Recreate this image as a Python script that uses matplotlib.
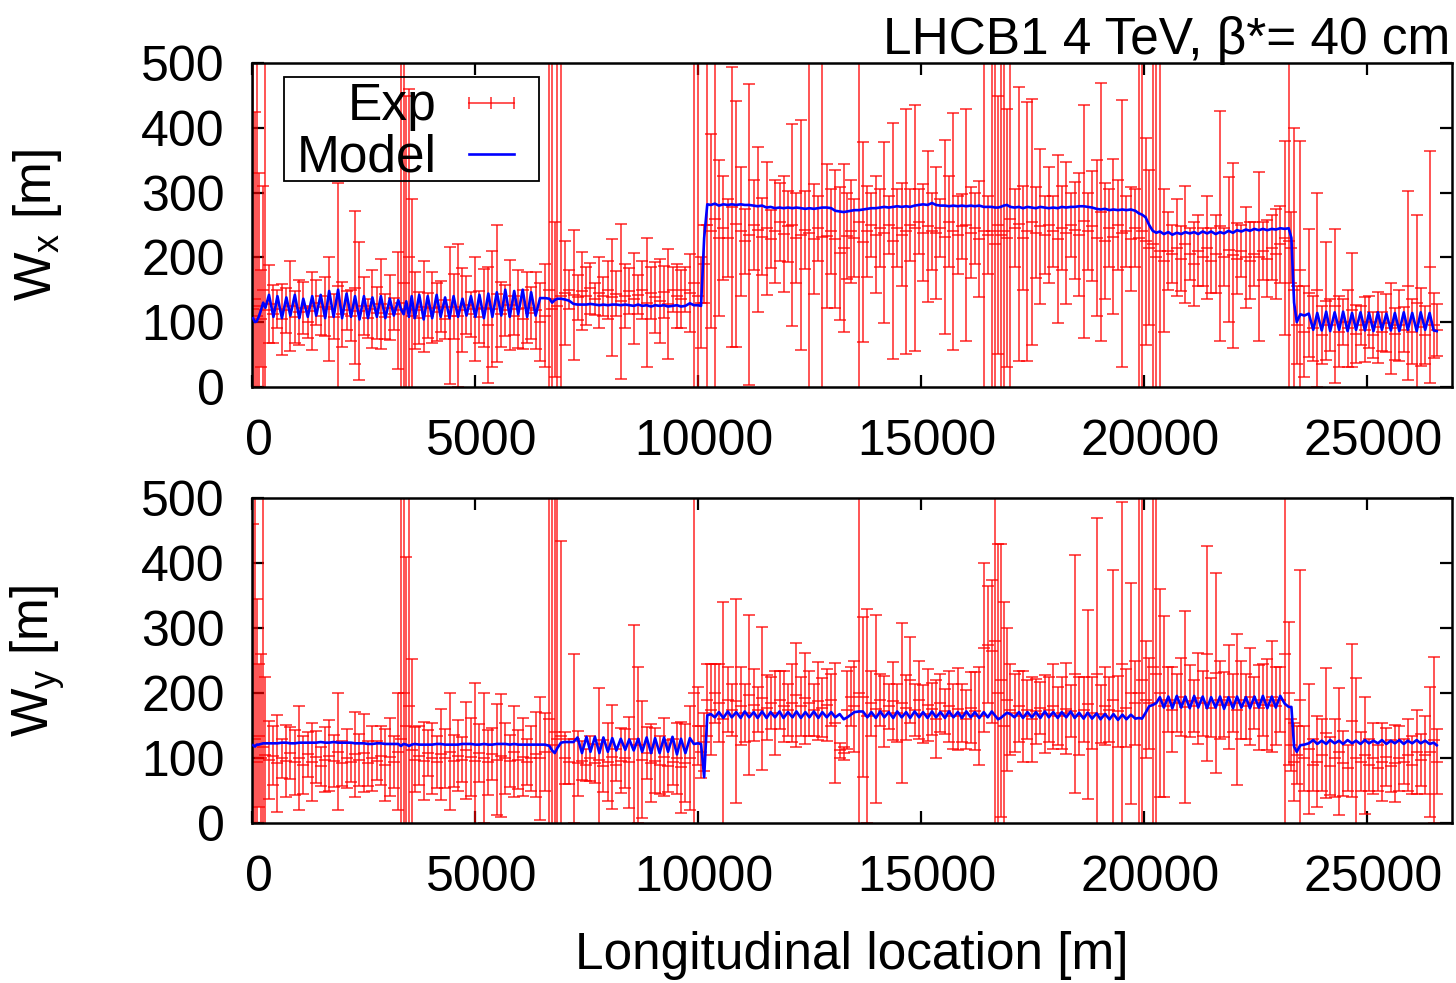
import numpy as np
import matplotlib
matplotlib.use("Agg")
import matplotlib.pyplot as plt
from matplotlib.patches import Rectangle
from matplotlib.transforms import ScaledTranslation

# BPM longitudinal positions [m]
s_bpm = [
    15, 55, 95, 140, 190, 240, 290, 370, 470, 560, 660, 760, 850, 950,
    1050, 1140, 1240, 1340, 1430, 1530, 1630, 1720, 1820, 1920, 2010, 2110, 2210, 2300,
    2400, 2500, 2590, 2690, 2790, 2880, 2980, 3080, 3170, 3270, 3330, 3390, 3450, 3510,
    3570, 3640, 3740, 3840, 3930, 4030, 4130, 4220, 4320, 4420, 4510, 4610, 4710, 4800,
    4900, 5000, 5090, 5190, 5290, 5380, 5480, 5580, 5670, 5770, 5870, 5960, 6060, 6160,
    6250, 6350,
    6450, 6560, 6660, 6720, 6780, 6840, 6920, 7000, 7100, 7200, 7290, 7390, 7490, 7580,
    7680, 7780, 7870, 7970, 8070, 8160, 8260, 8360, 8450, 8550, 8650, 8740, 8840, 8940,
    9030, 9130, 9230, 9320, 9420, 9520, 9610, 9710, 9810, 9900,
    9990, 10060, 10130, 10200, 10280, 10370, 10460, 10560, 10660, 10750, 10850, 10950, 11040, 11140,
    11240, 11330, 11430, 11530, 11620, 11720, 11820, 11910, 12010, 12110, 12200, 12300, 12400, 12490,
    12590, 12690, 12780, 12880, 12980, 13070, 13170,
    13260, 13340, 13420, 13500, 13600, 13690, 13790, 13880, 13980, 14080, 14170, 14270, 14370, 14460,
    14560, 14660, 14750, 14850, 14950, 15040, 15140, 15240, 15330, 15430, 15530, 15620, 15720, 15820,
    15910, 16010, 16110, 16200, 16300, 16400, 16490,
    16580, 16660, 16720, 16780, 16850, 16920, 17000, 17090, 17190, 17280, 17380, 17480, 17570, 17670,
    17770, 17860, 17960, 18060, 18150, 18250, 18350, 18440, 18540, 18640, 18730, 18830, 18930, 19020,
    19120, 19220, 19310, 19410, 19510, 19600, 19700, 19800,
    19880, 19950, 20030, 20110, 20190, 20270, 20350, 20440, 20540, 20630, 20730, 20830, 20920, 21020,
    21120, 21210, 21310, 21410, 21500, 21600, 21700, 21790, 21890, 21990, 22080, 22180, 22280, 22370,
    22470, 22570, 22660, 22760, 22860, 22950, 23050, 23150, 23240,
    23300, 23360, 23420, 23500, 23590, 23690, 23790, 23880, 23980, 24080, 24170, 24270, 24370, 24460,
    24560, 24660, 24750, 24850, 24950, 25040, 25140, 25240, 25330, 25430, 25530, 25620, 25720, 25820,
    25910, 26010, 26110, 26200, 26300, 26400, 26490, 26560,
]

# horizontal W function: measured, error, model
wx_exp = [
    120, 135, 110, 125, 105, 150, 118, 128, 112, 120, 104, 118, 125, 108,
    115, 122, 100, 117, 130, 110, 124, 120, 108, 155, 112, 118, 110, 153,
    117, 125, 106, 120, 114, 128, 108, 122, 112, 118, 130, 160, 120, 200,
    110, 118, 106, 124, 110, 122, 116, 124, 104, 110, 124, 110, 118, 126,
    112, 120, 108, 122, 95, 120, 144, 112, 118, 126, 110, 120, 104, 122,
    114, 118,
    100, 110, 150, 120, 135, 125, 140, 145, 150, 142, 138, 148, 140, 152,
    136, 145, 140, 150, 138, 144, 132, 140, 148, 136, 142, 150, 130, 145,
    138, 132, 146, 128, 150, 140, 135, 150, 145, 160,
    140, 130, 190, 250, 240, 260, 230, 245, 230, 278, 252, 240, 225, 235,
    250, 243, 232, 245, 228, 240, 255, 236, 248, 250, 230, 235, 242, 238,
    228, 245, 232, 233, 240, 228, 206,
    215, 233, 240, 230, 255, 224, 240, 250, 235, 245, 238, 250, 225, 245,
    235, 240, 250, 245, 255, 238, 248, 240, 238, 245, 232, 255, 240, 235,
    248, 250, 238, 245, 228, 240, 235,
    240, 220, 250, 235, 240, 230, 260, 245, 252, 230, 240, 255, 238, 248,
    235, 250, 240, 228, 245, 238, 250, 242, 235, 256, 240, 248, 230, 270,
    225, 245, 232, 250, 237, 240, 228, 245,
    230, 240, 225, 215, 220, 200, 210, 195, 210, 205, 215, 198, 220, 205,
    190, 210, 200, 215, 195, 205, 248, 200, 212, 203, 198, 210, 200, 195,
    205, 201, 210, 198, 215, 205, 220, 230, 225,
    215, 150, 95, 180, 85, 145, 90, 150, 80, 132, 95, 125, 85, 100,
    90, 119, 82, 95, 88, 100, 80, 92, 85, 98, 90, 82, 95, 88,
    156, 85, 130, 92, 80, 185, 95, 88,
]
wx_err = [
    650, 290, 520, 205, 75, 160, 600, 60, 45, 30, 55, 35, 70, 40,
    50, 40, 25, 60, 35, 30, 45, 80, 35, 160, 50, 30, 40, 118,
    107, 45, 30, 60, 40, 70, 35, 50, 25, 90, 420, 400, 330, 260,
    180, 60, 40, 70, 35, 55, 45, 40, 30, 106, 50, 110, 65, 45,
    35, 80, 40, 60, 90, 90, 106, 50, 40, 70, 30, 60, 45, 55,
    40, 60,
    60, 80, 600, 450, 120, 700, 500, 80, 30, 100, 35, 60, 45, 40,
    25, 55, 30, 45, 90, 35, 120, 50, 35, 70, 30, 45, 100, 40,
    55, 65, 40, 85, 35, 50, 45, 35, 60, 520,
    510, 70, 60, 560, 150, 520, 120, 80, 60, 216, 190, 100, 50, 233,
    70, 128, 60, 103, 45, 80, 60, 90, 55, 156, 70, 178, 60, 500,
    85, 50, 500, 112, 65, 107, 103,
    130, 66, 80, 60, 520, 155, 70, 50, 90, 60, 140, 45, 182, 60,
    80, 190, 55, 190, 50, 75, 117, 60, 102, 45, 150, 70, 183, 60,
    50, 180, 70, 55, 90, 520, 60,
    520, 560, 200, 600, 530, 200, 500, 60, 212, 80, 200, 190, 70, 120,
    60, 90, 55, 130, 65, 110, 50, 75, 95, 180, 60, 85, 120, 200,
    90, 60, 120, 70, 206, 55, 80, 60,
    550, 520, 160, 120, 600, 550, 520, 111, 60, 45, 75, 50, 90, 40,
    65, 55, 45, 80, 50, 60, 178, 45, 112, 143, 55, 40, 78, 60,
    50, 131, 45, 60, 50, 70, 60, 150, 550,
    55, 250, 60, 200, 70, 99, 50, 150, 45, 91, 40, 119, 55, 35,
    60, 88, 45, 30, 50, 40, 35, 55, 30, 45, 70, 40, 55, 35,
    146, 50, 135, 60, 45, 180, 50, 40,
]
wx_model = [
    106, 100, 101, 108, 118, 130, 122, 142, 108, 140, 106, 138, 110, 142,
    106, 136, 108, 140, 110, 142, 106, 148, 108, 150, 106, 144, 108, 140,
    104, 140, 106, 138, 108, 140, 106, 136, 110, 134, 120, 112, 132, 108,
    140, 106, 142, 104, 140, 106, 142, 108, 138, 106, 140, 108, 136, 110,
    140, 108, 142, 106, 144, 108, 146, 110, 150, 108, 148, 112, 150, 108,
    146, 110,
    137, 137, 136, 130, 134, 136, 136, 135, 133, 128, 127, 127, 127, 128,
    127, 126, 127, 126, 127, 127, 126, 127, 126, 125, 127, 125, 126, 124,
    126, 125, 126, 124, 125, 126, 124, 125, 129, 126,
    126, 125, 230, 282, 281, 283, 280, 282, 281, 282, 281, 282, 281, 281,
    280, 279, 280, 277, 278, 276, 277, 276, 277, 276, 277, 276, 275, 276,
    275, 276, 277, 277, 276, 272, 271,
    270, 271, 272, 273, 273, 274, 275, 276, 276, 277, 278, 277, 278, 279,
    278, 279, 278, 280, 281, 282, 281, 284, 281, 280, 280, 279, 280, 279,
    280, 279, 280, 279, 280, 278, 278,
    278, 277, 277, 278, 280, 281, 278, 277, 278, 276, 278, 277, 276, 278,
    277, 276, 277, 276, 278, 277, 278, 278, 279, 279, 278, 277, 275, 274,
    275, 273, 274, 273, 274, 273, 274, 272,
    268, 266, 262, 250, 241, 238, 240, 236, 239, 235, 238, 236, 239, 237,
    239, 236, 240, 237, 240, 236, 239, 237, 241, 238, 242, 240, 243, 241,
    244, 242, 244, 242, 244, 243, 245, 244, 245,
    230, 130, 100, 112, 110, 113, 88, 114, 87, 116, 86, 115, 88, 116,
    86, 114, 88, 115, 87, 114, 86, 115, 88, 113, 87, 114, 86, 115,
    88, 114, 86, 115, 88, 114, 87, 86,
]

# vertical W function: measured, error, model
wy_exp = [
    120, 130, 95, 135, 100, 118, 105, 98, 104, 92, 100, 96, 108, 94,
    100, 90, 106, 95, 102, 88, 98, 104, 96, 110, 92, 100, 94, 106,
    98, 108, 92, 100, 96, 104, 90, 102, 95, 110, 130, 200, 150, 180,
    112, 98, 104, 96, 108, 100, 94, 106, 100, 110, 96, 104, 98, 112,
    102, 96, 108, 100, 94, 106, 98, 104, 100, 96, 110, 98, 102, 94,
    100, 106,
    100, 110, 160, 120, 140, 130, 135, 100, 95, 130, 92, 96, 90, 100,
    92, 98, 88, 95, 102, 90, 96, 100, 94, 130, 120, 98, 108, 92,
    96, 90, 102, 88, 94, 100, 86, 92, 100, 200,
    150, 110, 125, 190, 175, 200, 185, 160, 190, 175, 188, 180, 170, 197,
    182, 175, 192, 178, 185, 170, 190, 180, 175, 185, 198, 180, 192, 185,
    175, 188, 178, 182, 190, 154, 112,
    108, 175, 195, 180, 200, 194, 165, 185, 176, 190, 172, 180, 188, 170,
    185, 178, 220, 175, 190, 168, 182, 176, 160, 185, 172, 180, 165, 176,
    170, 160, 178, 172, 165, 270, 275,
    265, 280, 200, 220, 150, 190, 175, 170, 180, 165, 175, 160, 172, 178,
    168, 175, 180, 165, 170, 176, 172, 230, 165, 175, 183, 170, 230, 168,
    180, 175, 190, 172, 245, 178, 200, 185,
    200, 220, 190, 185, 240, 230, 200, 180, 190, 175, 185, 195, 179, 188,
    180, 192, 185, 261, 178, 231, 190, 182, 195, 185, 175, 190, 180, 195,
    185, 178, 190, 182, 195, 180, 190, 260, 200,
    120, 95, 105, 190, 100, 115, 90, 95, 105, 139, 88, 100, 110, 92,
    85, 158, 100, 95, 105, 90, 100, 85, 95, 102, 88, 92, 100, 95,
    105, 90, 110, 98, 105, 110, 128, 95,
]
wy_err = [
    340, 600, 250, 110, 160, 700, 120, 60, 45, 75, 30, 55, 40, 50,
    80, 45, 35, 60, 40, 30, 50, 55, 40, 90, 35, 45, 30, 65,
    40, 60, 35, 50, 30, 45, 55, 60, 40, 90, 420, 430, 260, 330,
    140, 50, 45, 60, 35, 55, 40, 70, 45, 90, 40, 55, 35, 75,
    60, 120, 45, 100, 50, 40, 85, 95, 55, 40, 70, 45, 60, 35,
    50, 65,
    95, 60, 600, 560, 420, 700, 300, 40, 35, 130, 50, 30, 25, 35,
    30, 110, 40, 60, 80, 25, 50, 45, 70, 175, 120, 90, 40, 60,
    50, 45, 60, 40, 35, 55, 70, 60, 80, 520,
    60, 40, 45, 55, 70, 45, 60, 180, 50, 40, 157, 60, 45, 123,
    55, 35, 110, 50, 40, 65, 45, 55, 40, 60, 80, 45, 70, 50,
    40, 60, 45, 55, 40, 92, 12,
    10, 60, 45, 70, 520, 123, 165, 50, 145, 40, 55, 35, 60, 45,
    123, 50, 66, 40, 60, 45, 55, 40, 60, 45, 35, 55, 50, 63,
    45, 45, 55, 60, 75, 130, 90,
    110, 600, 230, 210, 190, 110, 70, 60, 55, 70, 45, 65, 50, 40,
    60, 50, 65, 45, 55, 70, 40, 183, 60, 50, 145, 55, 240, 45,
    60, 50, 200, 55, 250, 60, 170, 65,
    560, 520, 90, 70, 600, 560, 160, 139, 50, 65, 45, 60, 148, 55,
    40, 70, 50, 165, 45, 154, 60, 50, 80, 45, 116, 60, 50, 75,
    40, 65, 55, 70, 85, 60, 50, 300, 110,
    40, 60, 45, 200, 50, 100, 40, 70, 55, 100, 45, 60, 98, 50,
    35, 118, 124, 45, 90, 40, 55, 35, 60, 45, 40, 59, 50, 35,
    55, 45, 65, 40, 60, 100, 128, 50,
]
wy_model = [
    120, 118, 121, 121, 122, 123, 123, 123, 123, 123, 124, 124, 123, 123,
    124, 124, 124, 124, 124, 125, 124, 124, 125, 124, 124, 124, 124, 123,
    123, 123, 122, 122, 123, 123, 122, 122, 122, 122, 119, 122, 121, 119,
    121, 122, 121, 121, 121, 121, 122, 122, 121, 121, 121, 121, 122, 122,
    122, 121, 121, 122, 121, 121, 122, 122, 122, 121, 122, 121, 121, 121,
    121, 121,
    121, 121, 119, 112, 108, 116, 124, 125, 125, 125, 132, 108, 133, 110,
    133, 108, 132, 110, 131, 112, 130, 113, 129, 112, 130, 110, 132, 108,
    131, 108, 132, 110, 133, 106, 130, 108, 131, 122,
    123, 122, 71, 166, 168, 163, 171, 162, 172, 163, 171, 162, 172, 163,
    171, 162, 172, 162, 171, 163, 172, 162, 171, 163, 172, 162, 171, 163,
    172, 162, 171, 163, 171, 163, 168,
    160, 163, 167, 171, 172, 172, 163, 171, 162, 172, 163, 171, 162, 172,
    163, 171, 162, 172, 163, 171, 162, 172, 163, 171, 162, 172, 163, 171,
    162, 172, 163, 171, 162, 171, 163,
    172, 165, 160, 162, 166, 170, 168, 163, 171, 162, 171, 163, 171, 162,
    172, 163, 171, 162, 171, 163, 172, 162, 170, 161, 170, 161, 169, 160,
    168, 160, 168, 159, 167, 160, 167, 161,
    162, 161, 170, 180, 182, 185, 194, 178, 195, 177, 196, 178, 195, 177,
    196, 178, 195, 177, 194, 178, 195, 176, 194, 177, 195, 178, 194, 177,
    195, 178, 196, 177, 195, 178, 196, 184, 179,
    179, 118, 110, 120, 121, 123, 128, 122, 127, 122, 128, 123, 127, 122,
    128, 123, 127, 122, 128, 123, 127, 123, 128, 122, 127, 123, 128, 122,
    127, 123, 128, 123, 127, 122, 124, 120,
]

x_ticks = [0, 5000, 10000, 15000, 20000, 25000]
y_ticks = [0, 100, 200, 300, 400, 500]

plt.rcParams['font.family'] = ['Liberation Sans', 'DejaVu Sans']
plt.rcParams['mathtext.fontset'] = 'custom'
plt.rcParams['mathtext.rm'] = 'Liberation Sans'
plt.rcParams['mathtext.it'] = 'Liberation Sans:italic'

FS = 37
RED = '#ff0000'
BLUE = '#0000ff'

fig = plt.figure(figsize=(14.56, 9.83), dpi=100)


def draw_panel(ax, exp, err, model):
    ax.errorbar(s_bpm, exp, yerr=err, fmt='_', color=RED, ms=9, mew=1.3,
                elinewidth=1.3, capsize=4.5, capthick=1.3, alpha=0.72, zorder=2)
    ax.plot(s_bpm, model, color=BLUE, lw=1.9, zorder=3)
    ax.set_xlim(0, 26900)
    ax.set_ylim(0, 500)
    ax.set_xticks(x_ticks)
    ax.set_yticks(y_ticks)
    ax.tick_params(direction='in', length=8.5, width=1.6, top=True, right=True,
                   labelsize=36)
    ax.tick_params(axis='x', pad=23)
    ax.tick_params(axis='y', pad=20)
    # gnuplot puts the x labels a touch right of the tick
    shift = ScaledTranslation(6 / 100, 0, fig.dpi_scale_trans)
    for lab in ax.get_xticklabels():
        lab.set_transform(lab.get_transform() + shift)
    for sp in ax.spines.values():
        sp.set_linewidth(1.8)


ax1 = fig.add_axes([0.1734, 0.6066, 0.8238, 0.3290])
ax2 = fig.add_axes([0.1734, 0.1625, 0.8238, 0.3306])

draw_panel(ax1, wx_exp, wx_err, wx_model)
draw_panel(ax2, wy_exp, wy_err, wy_model)

# key box, gnuplot style (text right-justified, sample to the right)
ax1.add_patch(Rectangle((0.0263, 0.637), 0.213, 0.3216, transform=ax1.transAxes,
                        fill=False, edgecolor='black', lw=1.3, zorder=5))
ax1.text(0.1538, 0.8247, 'Exp', ha='right', va='baseline', fontsize=FS,
         transform=ax1.transAxes, zorder=6)
ax1.text(0.1538, 0.6648, 'Model', ha='right', va='baseline', fontsize=FS,
         transform=ax1.transAxes, zorder=6)
ax1.plot([0.1804, 0.1992, 0.2179], [0.878, 0.878, 0.878], color=RED, alpha=0.72,
         lw=1.3, marker='|', ms=9, mew=1.3, transform=ax1.transAxes, zorder=6)
ax1.plot([0.1804, 0.2179], [0.7195, 0.7195], color=BLUE, lw=1.9,
         transform=ax1.transAxes, zorder=6)

fig.text(0.9959, 0.945, 'LHCB1 4 TeV, \u03b2*= 40 cm', ha='right', va='baseline',
         fontsize=FS)
fig.text(0.026, 0.7711, r'W$_\mathrm{x}$ [m]', rotation=90, ha='center',
         va='center', fontsize=FS)
fig.text(0.026, 0.3278, r'W$_\mathrm{y}$ [m]', rotation=90, ha='center',
         va='center', fontsize=FS)
fig.text(0.585, 0.028, 'Longitudinal location [m]', ha='center', va='center',
         fontsize=FS)

fig.savefig('out.png', dpi=100)
